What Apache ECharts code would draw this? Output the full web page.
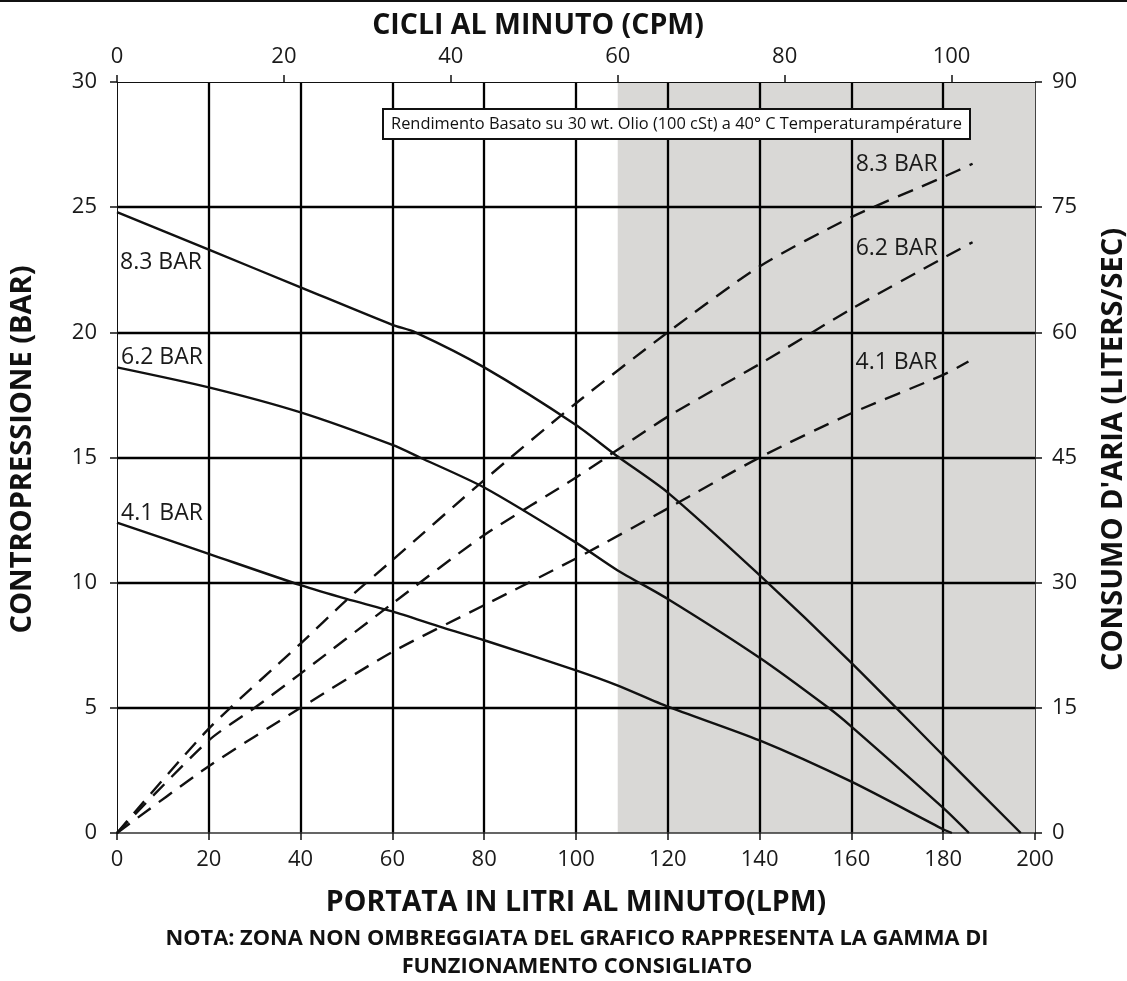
<!DOCTYPE html>
<html><head><meta charset="utf-8">
<script src="https://cdn.jsdelivr.net/npm/echarts@6.0.0/dist/echarts.min.js"></script>
<style>html,body{margin:0;padding:0;background:#fff;overflow:hidden}#c{width:1127px;height:981px}</style>
</head><body><div id="c"></div>
<script>
// ---- Axis ticks ----
const lpmTicks = [0, 20, 40, 60, 80, 100, 120, 140, 160, 180, 200];
const cpmTicks = [0, 20, 40, 60, 80, 100];
const barTicks = [0, 5, 10, 15, 20, 25, 30];
const airTicks = [0, 15, 30, 45, 60, 75, 90];
const cpmMax = 110;
const recommendedMaxCPM = 60;

// ---- Back pressure (BAR) vs flow (LPM) ----
const lpm83 = [0, 20, 40, 60, 65, 80, 100, 109, 120, 140, 160, 180, 196.9];
const bar83 = [24.8, 23.3, 21.8, 20.3, 20.0, 18.6, 16.3, 15.05, 13.6, 10.3, 6.8, 3.1, 0];
const lpm62 = [0, 20, 40, 60, 66, 80, 100, 109, 120, 140, 155, 160, 180, 185.6];
const bar62 = [18.6, 17.8, 16.8, 15.5, 15.0, 13.8, 11.6, 10.5, 9.35, 7.0, 5.0, 4.25, 1.0, 0];
const lpm41 = [0, 20, 40, 50, 60, 71, 80, 100, 109, 120, 140, 160, 180, 181.9];
const bar41 = [12.4, 11.15, 9.9, 9.35, 8.85, 8.2, 7.7, 6.5, 5.9, 5.05, 3.7, 2.05, 0.15, 0];

// ---- Air consumption vs flow (LPM) ----
const airLpm83 = [0, 20, 40, 50, 60, 80, 100, 120, 140, 160, 180, 186.4];
const air83 = [0, 12.5, 22.7, 27.9, 32.7, 42.3, 51.5, 60, 67.9, 73.8, 78.6, 80.2];
const airLpm62 = [0, 20, 30, 40, 60, 80, 100, 120, 140, 160, 180, 186.4];
const air62 = [0, 11.1, 15, 19.1, 27.5, 35.7, 42.6, 49.9, 56.2, 62.8, 68.9, 70.8];
const airLpm41 = [0, 20, 40, 60, 80, 100, 120, 140, 160, 180, 185.5];
const air41 = [0, 8, 15, 21.7, 27.3, 32.9, 38.9, 45, 50.3, 54.9, 56.5];

const curveNames = ['8.3 BAR', '6.2 BAR', '4.1 BAR'];

const FONT = "'Open Sans', 'DejaVu Sans', sans-serif";
const zip = (xs, ys) => xs.map((x, i) => [x, ys[i]]);

const chart = echarts.init(document.getElementById('c'), null, {renderer: 'canvas'});

const solidStyle = {color: '#111', width: 2.4, type: 'solid'};
const dashStyle = {color: '#111', width: 2.4, type: [16, 10]};
const labelBase = {show: true, color: '#1a1a1a', fontFamily: FONT, fontSize: 23, verticalAlign: 'middle'};

function solidSeries(name, xs, ys, pos) {
  const d = zip(xs, ys);
  return {
    name, type: 'line', xAxisIndex: 0, yAxisIndex: 0, data: d, showSymbol: false, symbol: 'none',
    smooth: 0.25, lineStyle: solidStyle, z: 5, silent: true,
    markPoint: {symbol: 'circle', symbolSize: 0, silent: true,
      data: [{coord: d[0], label: Object.assign({}, labelBase, {formatter: name, position: pos, align: 'left'})}]}
  };
}
function dashSeries(name, xs, ys, pos) {
  const d = zip(xs, ys);
  return {
    name: name + ' air', type: 'line', xAxisIndex: 0, yAxisIndex: 1, data: d, showSymbol: false, symbol: 'none',
    smooth: 0.25, lineStyle: dashStyle, z: 5, silent: true,
    markPoint: {symbol: 'circle', symbolSize: 0, silent: true,
      data: [{coord: d[d.length - 1], label: Object.assign({}, labelBase, {formatter: name, position: pos, align: 'right'})}]}
  };
}

const axisLabelStyle = {color: '#1a1a1a', fontFamily: FONT, fontSize: 22};
const nameStyle = {color: '#111', fontFamily: FONT, fontSize: 28.5, fontWeight: 'bold'};

const option = {
  backgroundColor: '#fff',
  animation: false,
  grid: {left: 117, right: 92, top: 82, bottom: 148, containLabel: false, outerBoundsMode: 'none'},
  xAxis: [
    {type: 'value', position: 'bottom', min: lpmTicks[0], max: lpmTicks[lpmTicks.length - 1], interval: 20, z: 3,
      name: 'PORTATA IN LITRI AL MINUTO(LPM)', nameLocation: 'middle', nameGap: 55, nameTextStyle: nameStyle,
      axisLine: {show: true, onZero: false, lineStyle: {color: '#333', width: 1.5}},
      axisTick: {show: true, inside: false, length: 7, lineStyle: {color: '#111', width: 1.5}},
      axisLabel: Object.assign({margin: 16}, axisLabelStyle),
      splitLine: {show: true, showMinLine: false, showMaxLine: false, lineStyle: {color: '#000', width: 2.3}}},
    {type: 'value', position: 'top', min: 0, max: cpmMax, interval: 10, z: 3,
      name: 'CICLI AL MINUTO (CPM)', nameLocation: 'middle', nameGap: 42,
      nameTextStyle: Object.assign({padding: [0, 76, 0, 0]}, nameStyle),
      axisLine: {show: true, onZero: false, lineStyle: {color: '#111', width: 1}},
      axisTick: {show: true, inside: false, length: 7, customValues: cpmTicks, lineStyle: {color: '#111', width: 1.5}},
      axisLabel: Object.assign({margin: 14, customValues: cpmTicks}, axisLabelStyle),
      splitLine: {show: false}}
  ],
  yAxis: [
    {type: 'value', position: 'left', min: barTicks[0], max: barTicks[barTicks.length - 1], interval: 5, z: 3,
      name: 'CONTROPRESSIONE (BAR)', nameLocation: 'middle', nameGap: 80,
      nameTextStyle: Object.assign({padding: [0, 0, 0, 16]}, nameStyle, {fontSize: 29}),
      axisLine: {show: true, onZero: false, lineStyle: {color: '#111', width: 1}},
      axisTick: {show: true, inside: false, length: 7, lineStyle: {color: '#111', width: 1.5}},
      axisLabel: Object.assign({margin: 20}, axisLabelStyle),
      splitLine: {show: true, showMinLine: false, showMaxLine: false, lineStyle: {color: '#000', width: 2.3}}},
    {type: 'value', position: 'right', min: airTicks[0], max: airTicks[airTicks.length - 1], interval: 15, z: 3,
      name: "CONSUMO D'ARIA (LITERS/SEC)", nameLocation: 'middle', nameGap: 64,
      nameTextStyle: Object.assign({padding: [0, 0, 0, 16]}, nameStyle, {fontSize: 29}),
      axisLine: {show: true, onZero: false, lineStyle: {color: '#444', width: 1}},
      axisTick: {show: true, inside: false, length: 7, lineStyle: {color: '#111', width: 1.5}},
      axisLabel: Object.assign({margin: 17}, axisLabelStyle),
      splitLine: {show: false}}
  ],
  series: [
    {name: 'shade', type: 'line', xAxisIndex: 1, yAxisIndex: 0, data: [], silent: true,
      markArea: {silent: true, itemStyle: {color: '#d9d8d6'},
        data: [[{xAxis: recommendedMaxCPM, yAxis: barTicks[0]}, {xAxis: cpmMax, yAxis: barTicks[barTicks.length - 1]}]]}},
    solidSeries(curveNames[0], lpm83, bar83, [3, 50]),
    solidSeries(curveNames[1], lpm62, bar62, [4, -10]),
    solidSeries(curveNames[2], lpm41, bar41, [4, -9]),
    dashSeries(curveNames[0], airLpm83, air83, [-35, 1]),
    dashSeries(curveNames[1], airLpm62, air62, [-35, 6]),
    dashSeries(curveNames[2], airLpm41, air41, [-31, 1])
  ],
  graphic: [
    {type: 'line', z: 100, shape: {x1: 0, y1: 1, x2: 1127, y2: 1}, style: {stroke: '#111', lineWidth: 2}},
    {type: 'rect', z: 100, shape: {x: 383, y: 109, width: 587, height: 30},
      style: {fill: '#fff', stroke: '#111', lineWidth: 2}},
    {type: 'text', z: 101, x: 676.5, y: 124,
      style: {text: 'Rendimento Basato su 30 wt. Olio (100 cSt) a 40° C Temperaturampérature',
        fill: '#111', font: "16.4px 'Open Sans', sans-serif", align: 'center', verticalAlign: 'middle'}},
    {type: 'text', z: 101, x: 577, y: 939,
      style: {text: 'NOTA: ZONA NON OMBREGGIATA DEL GRAFICO RAPPRESENTA LA GAMMA DI',
        fill: '#111', font: "bold 21.8px 'Open Sans', sans-serif", align: 'center', verticalAlign: 'middle'}},
    {type: 'text', z: 101, x: 577, y: 967,
      style: {text: 'FUNZIONAMENTO CONSIGLIATO',
        fill: '#111', font: "bold 21.8px 'Open Sans', sans-serif", align: 'center', verticalAlign: 'middle'}}
  ]
};
chart.setOption(option);
</script></body></html>
